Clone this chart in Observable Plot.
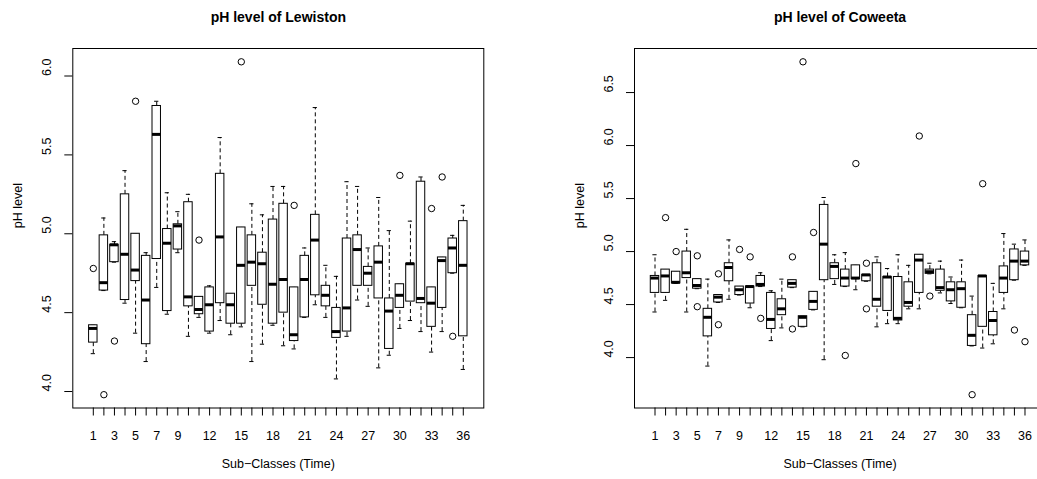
<!DOCTYPE html>
<html><head><meta charset="utf-8">
<script src="https://cdn.jsdelivr.net/npm/d3@7"></script>
<script src="https://cdn.jsdelivr.net/npm/@observablehq/plot@0.6"></script>
<style>
html,body{margin:0;padding:0;background:#fff;overflow:hidden;}
#wrap{display:flex;width:1120px;height:479px;}
#wrap svg{flex:none;display:block;}
</style></head><body><div id="wrap"></div>
<script>
const boxIds = d3.range(1, 37);
const xTickLabels = [1,3,5,7,9,12,15,18,21,24,27,30,33,36];
const lewYTicks = [4.0, 4.5, 5.0, 5.5, 6.0];
const cowYTicks = [4.0, 4.5, 5.0, 5.5, 6.0, 6.5];

// Lewiston: whisker low, Q1, median, Q3, whisker high
const lewLo  = [4.24,4.64,4.82,4.56,4.37,4.19,4.66,4.49,4.88,4.35,4.47,4.37,4.45,4.36,4.41,4.19,4.30,4.42,4.29,4.27,4.47,4.55,4.47,4.08,4.35,4.58,4.54,4.15,4.23,4.40,4.45,4.38,4.25,4.38,4.75,4.14];
const lewQ1  = [4.31,4.64,4.82,4.58,4.70,4.30,4.84,4.51,4.90,4.54,4.49,4.38,4.56,4.43,4.43,4.67,4.55,4.43,4.50,4.32,4.47,4.61,4.54,4.34,4.38,4.67,4.67,4.59,4.27,4.53,4.57,4.56,4.41,4.53,4.75,4.35];
const lewMed = [4.40,4.69,4.93,4.87,4.77,4.58,5.63,4.94,5.05,4.60,4.52,4.55,4.98,4.55,4.80,4.82,4.81,4.68,4.71,4.36,4.71,4.96,4.61,4.38,4.53,4.90,4.75,4.82,4.51,4.61,4.81,4.59,4.56,4.83,4.91,4.80];
const lewQ3  = [4.42,4.99,4.93,5.25,5.00,4.86,5.81,5.03,5.06,5.20,4.60,4.66,5.38,4.62,5.04,4.99,4.88,5.09,5.19,4.66,4.86,5.12,4.67,4.53,4.97,4.99,4.79,4.92,4.59,4.68,4.81,5.33,4.66,4.85,4.97,5.08];
const lewHi  = [4.42,5.10,4.95,5.40,5.00,4.88,5.84,5.26,5.14,5.25,4.60,4.67,5.61,4.62,5.04,5.19,5.12,5.30,5.30,4.66,4.91,5.80,4.80,4.73,5.33,5.30,4.91,5.23,5.02,4.68,5.08,5.36,4.66,4.85,4.99,5.18];
const lewOutBox = [1,2,3,5,11,15,20,30,33,34,35];
const lewOutVal = [4.78,3.98,4.32,5.84,4.96,6.09,5.18,5.37,5.16,5.36,4.35];

// Coweeta
const cowLo  = [4.43,4.54,4.70,4.43,4.65,3.92,4.52,4.55,4.59,4.47,4.67,4.16,4.28,4.66,4.29,4.45,3.98,4.69,4.67,4.64,4.72,4.29,4.32,4.32,4.46,4.46,4.79,4.61,4.51,4.47,4.11,4.09,4.13,4.46,4.73,4.87];
const cowQ1  = [4.61,4.61,4.70,4.75,4.65,4.20,4.52,4.72,4.59,4.51,4.67,4.27,4.40,4.66,4.29,4.45,4.73,4.74,4.67,4.74,4.72,4.48,4.44,4.35,4.48,4.61,4.79,4.63,4.53,4.47,4.11,4.29,4.21,4.61,4.73,4.87];
const cowMed = [4.75,4.77,4.71,4.80,4.68,4.38,4.57,4.85,4.64,4.67,4.69,4.36,4.46,4.70,4.38,4.53,5.07,4.86,4.75,4.75,4.78,4.55,4.76,4.37,4.52,4.92,4.81,4.66,4.64,4.65,4.21,4.77,4.35,4.75,4.91,4.91];
const cowQ3  = [4.77,4.83,4.81,5.00,4.74,4.46,4.59,4.89,4.67,4.67,4.77,4.61,4.55,4.73,4.39,4.62,5.44,4.89,4.83,4.87,4.78,4.89,4.76,4.76,4.71,4.97,4.83,4.83,4.71,4.71,4.40,4.77,4.43,4.86,5.02,5.00];
const cowHi  = [4.97,4.83,4.81,5.21,4.74,4.74,4.59,5.11,4.67,4.67,4.80,4.63,4.74,4.73,4.39,4.62,5.51,4.97,4.99,4.87,4.78,4.95,4.84,4.97,4.87,4.97,4.89,4.91,4.76,4.92,4.58,4.77,4.70,5.17,5.07,5.11];
const cowOutBox = [2,3,5,5,7,7,9,10,11,14,14,15,16,19,20,21,21,26,27,31,32,35,36];
const cowOutVal = [5.32,5.00,4.96,4.48,4.79,4.31,5.02,4.95,4.37,4.95,4.27,6.79,5.18,4.02,5.83,4.89,4.46,6.09,4.58,3.65,5.64,4.26,4.15];

const FONT = "Liberation Sans, Arial, Helvetica, sans-serif";

function panel(o) {
  const rows = boxIds.map((id, k) => ({id, lo: o.lo[k], q1: o.q1[k], med: o.med[k], q3: o.q3[k], hi: o.hi[k]}));
  const outs = o.outBox.map((b, k) => ({id: b, v: o.outVal[k]}));
  const lo = Math.min(d3.min(o.lo), d3.min(o.outVal));
  const hi = Math.max(d3.max(o.hi), d3.max(o.outVal));
  const pad = (hi - lo) * 0.04;
  const xpad = 36 * 0.04;
  const dash = "4,3";
  return Plot.plot({
    width: o.width, height: 479,
    marginLeft: o.marginLeft, marginRight: o.marginRight, marginTop: 48, marginBottom: 71.5,
    style: {fontFamily: FONT, fontSize: "12.5px", background: "white", color: "black", overflow: "visible"},
    x: {type: "linear", domain: [0.5 - xpad, 36.5 + xpad]},
    y: {type: "linear", domain: [lo - pad, hi + pad]},
    marks: [
      Plot.ruleX(rows, {x: "id", y1: "lo", y2: "q1", stroke: "black", strokeWidth: 1, strokeDasharray: dash}),
      Plot.ruleX(rows, {x: "id", y1: "q3", y2: "hi", stroke: "black", strokeWidth: 1, strokeDasharray: dash}),
      Plot.ruleY(rows, {y: "lo", x1: d => d.id - 0.2, x2: d => d.id + 0.2, stroke: "black", strokeWidth: 1}),
      Plot.ruleY(rows, {y: "hi", x1: d => d.id - 0.2, x2: d => d.id + 0.2, stroke: "black", strokeWidth: 1}),
      Plot.rect(rows, {x1: d => d.id - 0.4, x2: d => d.id + 0.4, y1: "q1", y2: "q3", fill: "white", stroke: "black", strokeWidth: 1}),
      Plot.ruleY(rows, {y: "med", x1: d => d.id - 0.4, x2: d => d.id + 0.4, stroke: "black", strokeWidth: 3}),
      Plot.dot(outs, {x: "id", y: "v", r: 3.2, stroke: "black", strokeWidth: 1, fill: "none"}),
      Plot.frame({stroke: "black", strokeWidth: 1}),
      Plot.axisX({ticks: boxIds, tickSize: 8, tickPadding: 15, label: null,
        tickFormat: d => xTickLabels.includes(d) ? String(d) : ""}),
      Plot.axisY({ticks: o.yTicks, tickSize: 8, label: null, tickFormat: () => ""}),
      Plot.text(o.yTicks, {y: d => d, text: d => d3.format(".1f")(d), frameAnchor: "left", dx: -26, rotate: -90, fill: "black"}),
      Plot.text(["pH level"], {frameAnchor: "left", dx: -55, rotate: -90, fill: "black"}),
      Plot.text(["Sub\u2212Classes (Time)"], {frameAnchor: "bottom", dy: 60, fill: "black"}),
      Plot.text([o.title], {frameAnchor: "top", dy: -36, fontWeight: "bold", fontSize: 14, fill: "black"})
    ]
  });
}

const wrap = document.getElementById("wrap");
wrap.append(panel({lo: lewLo, q1: lewQ1, med: lewMed, q3: lewQ3, hi: lewHi, outBox: lewOutBox, outVal: lewOutVal,
  yTicks: lewYTicks, title: "pH level of Lewiston", width: 560, marginLeft: 72.3, marginRight: 76.7}));
wrap.append(panel({lo: cowLo, q1: cowQ1, med: cowMed, q3: cowQ3, hi: cowHi, outBox: cowOutBox, outVal: cowOutVal,
  yTicks: cowYTicks, title: "pH level of Coweeta", width: 560, marginLeft: 74, marginRight: 75}));
</script></body></html>
